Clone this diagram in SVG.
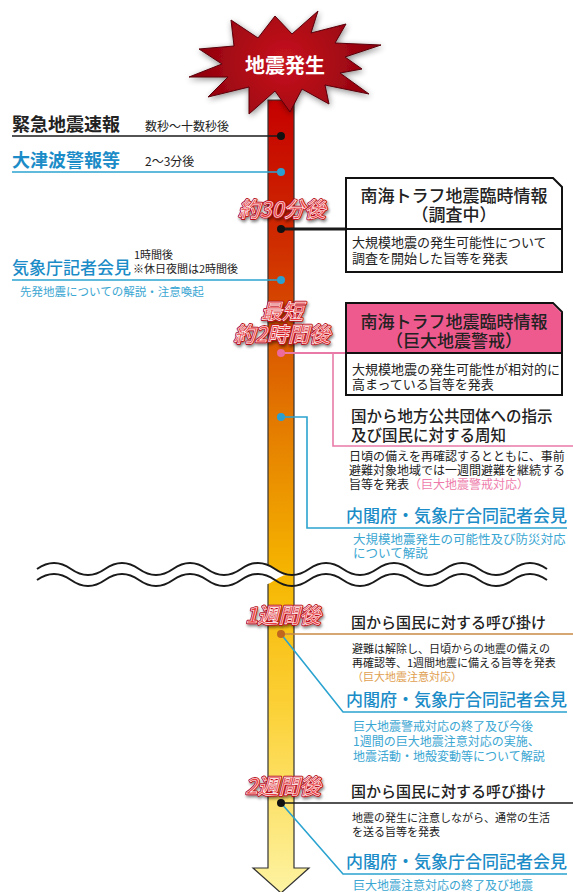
<svg xmlns="http://www.w3.org/2000/svg" width="573" height="892" viewBox="0 0 573 892">
<defs>
<linearGradient id="barGrad" x1="0" y1="100" x2="0" y2="892" gradientUnits="userSpaceOnUse">
<stop offset="0" stop-color="#c50000"/>
<stop offset="0.18" stop-color="#cf2c00"/>
<stop offset="0.4" stop-color="#e37800"/>
<stop offset="0.6" stop-color="#f6b600"/>
<stop offset="0.78" stop-color="#fcd33c"/>
<stop offset="1" stop-color="#fdf3a2"/>
</linearGradient>
<radialGradient id="starGrad" cx="285" cy="62" r="95" gradientUnits="userSpaceOnUse">
<stop offset="0" stop-color="#c8141e"/>
<stop offset="1" stop-color="#8c000c"/>
</radialGradient>
<filter id="glow" x="-20%" y="-20%" width="140%" height="140%">
<feGaussianBlur in="SourceAlpha" stdDeviation="3"/>
<feOffset dx="1" dy="2"/>
<feComponentTransfer><feFuncA type="linear" slope="0.45"/></feComponentTransfer>
<feMerge><feMergeNode/><feMergeNode in="SourceGraphic"/></feMerge>
</filter>
<filter id="sh" x="-20%" y="-30%" width="140%" height="160%">
<feGaussianBlur in="SourceAlpha" stdDeviation="1.5"/>
<feOffset dx="1" dy="1.5"/>
<feComponentTransfer><feFuncA type="linear" slope="0.5"/></feComponentTransfer>
<feMerge><feMergeNode/><feMergeNode in="SourceGraphic"/></feMerge>
</filter>
</defs>
<style>
text{font-family:"Noto Sans CJK JP","Noto Sans",sans-serif}
.blk{fill:#222}
.blue{fill:#1b8cc7}
.lblue{fill:#3aa6d2}
.pinkt{fill:#ee7cab}
.orgt{fill:#e0a050}
.big{font-size:18px;font-weight:700}
.mid{font-size:17px;font-weight:500}
.sub{font-size:15.5px;font-weight:500}
.s12{font-size:12px}
.s11{font-size:11px}
.s13{font-size:13px}
.rl{font-size:21px;font-style:italic;font-weight:500;text-anchor:middle}
.rlb{fill:#b8101a;stroke:#b8101a;stroke-width:2.6;stroke-linejoin:round;filter:url(#sh)}
.rlf{fill:#ea3c40;stroke:#fff;stroke-width:0.6}
.hd{text-anchor:middle}
.ln{fill:none}
.kL{stroke:#1a1a1a}
.bL{stroke:#2ba3d0}
.pL{stroke:#e97aa8}
.oL{stroke:#c98a44}
</style>

<g id="timeline">
<path d="M268,100 V868 H253 L281,893 L309,868 H294 V100 Z" fill="url(#barGrad)" stroke="#333" stroke-width="1.2"/>
</g>

<g id="quake">
<polygon filter="url(#glow)" fill="url(#starGrad)" stroke="#5a0008" stroke-width="1" points="318,11 311,33 346,24 335,43 381,45 345,57 362,69 340,73 369,94 325,85 329,104 302,89 290,112 275,91 249,114 249,87 208,97 228,77 189,77 222,64 199,49 234,46 231,20 258,38 275,16 292,34"/>
<text x="285" y="73" class="hd" style="font-size:20px;font-weight:700" fill="#fff">地震発生</text>
</g>

<g id="breakmark">
<path d="M37,569 q17,-12 34,0 t34,0 t34,0 t34,0 t34,0 t34,0 t34,0 t34,0 t34,0 t34,0 t34,0 t34,0 t34,0 t34,0 t34,0 L547,580 q-17,12 -34,0 t-34,0 t-34,0 t-34,0 t-34,0 t-34,0 t-34,0 t-34,0 t-34,0 t-34,0 t-34,0 t-34,0 t-34,0 t-34,0 t-34,0 Z" fill="#fff"/>
</g>

<g id="connectors" stroke-width="1.6">
<line class="ln kL" x1="12" y1="136" x2="281" y2="136"/>
<line class="ln bL" x1="12" y1="172" x2="281" y2="172"/>
<line class="ln kL" x1="281" y1="229" x2="346" y2="229" stroke-width="3"/>
<line class="ln bL" x1="12" y1="280" x2="281" y2="280"/>
<polyline class="ln pL" points="281,353 346,353" stroke-width="2"/>
<polyline class="ln pL" points="333,353 333,446 573,446"/>
<polyline class="ln bL" points="281,417 307,417 307,528 567,528"/>
<line class="ln oL" x1="281" y1="634" x2="573" y2="634"/>
<polyline class="ln bL" points="281,634 343,712 567,712"/>
<line class="ln kL" x1="281" y1="803" x2="573" y2="803"/>
<polyline class="ln bL" points="281,803 343,874 567,874"/>
<circle cx="281" cy="136" r="4" fill="#111"/>
<circle cx="281" cy="172" r="4" fill="#2b9fd0"/>
<circle cx="281" cy="229" r="4" fill="#111"/>
<circle cx="281" cy="280" r="4" fill="#2b9fd0"/>
<circle cx="281" cy="353" r="4" fill="#ec6a9c"/>
<circle cx="281" cy="417" r="4" fill="#2b9fd0"/>
<circle cx="281" cy="634" r="4" fill="#c0661e"/>
<circle cx="281" cy="803" r="4" fill="#111"/>
</g>

<g id="wave-lines" fill="none" stroke="#1a1a1a" stroke-width="2">
<path d="M37,569 q17,-12 34,0 t34,0 t34,0 t34,0 t34,0 t34,0 t34,0 t34,0 t34,0 t34,0 t34,0 t34,0 t34,0 t34,0 t34,0"/>
<path d="M37,580 q17,-12 34,0 t34,0 t34,0 t34,0 t34,0 t34,0 t34,0 t34,0 t34,0 t34,0 t34,0 t34,0 t34,0 t34,0 t34,0"/>
</g>

<g id="eew">
<text x="12" y="131" class="big blk">緊急地震速報</text>
<text x="145" y="131" class="s12 blk">数秒～十数秒後</text>
</g>

<g id="tsunami">
<text x="12" y="167" class="big blue">大津波警報等</text>
<text x="145" y="166" class="s12 blk">2～3分後</text>
</g>

<g id="jma-press">
<text x="12" y="274" class="mid blue">気象庁記者会見</text>
<text x="134" y="259" class="s11 blk">1時間後</text>
<text x="133" y="273" class="s11 blk">※休日夜間は2時間後</text>
<text x="20" y="296" class="s11 lblue" style="font-size:11.5px">先発地震についての解説・注意喚起</text>
</g>

<g id="label-30min">
<text x="282" y="217" class="rl rlb">約30分後</text>
<text x="282" y="217" class="rl rlf">約30分後</text>
</g>

<g id="info-survey">
<path d="M346,178 H553 L562,187 V272 H346 Z" fill="#fff" stroke="#111" stroke-width="2"/>
<line x1="346" y1="229" x2="562" y2="229" stroke="#111" stroke-width="2"/>
<text x="454" y="202" class="mid hd blk">南海トラフ地震臨時情報</text>
<text x="454" y="221" class="mid hd blk">（調査中）</text>
<text x="352" y="247" class="s13 blk">大規模地震の発生可能性について</text>
<text x="352" y="263" class="s13 blk">調査を開始した旨等を発表</text>
</g>

<g id="label-2h">
<text x="282" y="319" class="rl rlb">最短</text>
<text x="282" y="319" class="rl rlf">最短</text>
<text x="282" y="342" class="rl rlb">約2時間後</text>
<text x="282" y="342" class="rl rlf">約2時間後</text>
</g>

<g id="info-warning">
<path d="M346,303 H553 L562,312 V395 H346 Z" fill="#fff" stroke="#111" stroke-width="2"/>
<path d="M347,304 H552.5 L561,312.5 V352 H347 Z" fill="#ee5a8e"/>
<line x1="346" y1="353" x2="562" y2="353" stroke="#111" stroke-width="2"/>
<text x="454" y="328" class="mid hd blk">南海トラフ地震臨時情報</text>
<text x="454" y="347" class="mid hd blk">（巨大地震警戒）</text>
<text x="352" y="374" class="s13 blk">大規模地震の発生可能性が相対的に</text>
<text x="352" y="389" class="s13 blk">高まっている旨等を発表</text>
</g>

<g id="gov-instruction">
<text x="351" y="422" class="sub blk">国から地方公共団体への指示</text>
<text x="351" y="441" class="sub blk">及び国民に対する周知</text>
<text x="349" y="461" class="s12 blk">日頃の備えを再確認するとともに、事前</text>
<text x="349" y="475" class="s12 blk">避難対象地域では一週間避難を継続する</text>
<text x="349" y="489" class="s12 blk">旨等を発表<tspan class="pinkt">（巨大地震警戒対応）</tspan></text>
</g>

<g id="joint-press-1">
<text x="346" y="522" class="mid blue">内閣府・気象庁合同記者会見</text>
<text x="353" y="544" class="lblue" style="font-size:12.5px">大規模地震発生の可能性及び防災対応</text>
<text x="353" y="558" class="lblue" style="font-size:12.5px">について解説</text>
</g>

<g id="label-1w">
<text x="283" y="623" class="rl rlb">1週間後</text>
<text x="283" y="623" class="rl rlf">1週間後</text>
</g>

<g id="call-1w">
<text x="351" y="628" class="sub blk" style="font-size:15px">国から国民に対する呼び掛け</text>
<text x="352" y="653" class="s11 blk">避難は解除し、日頃からの地震の備えの</text>
<text x="352" y="667" class="s11 blk">再確認等、1週間地震に備える旨等を発表</text>
<text x="352" y="681" class="s11 orgt">（巨大地震注意対応）</text>
</g>

<g id="joint-press-2">
<text x="346" y="706" class="mid blue">内閣府・気象庁合同記者会見</text>
<text x="353" y="731" class="s12 lblue">巨大地震警戒対応の終了及び今後</text>
<text x="353" y="746" class="s12 lblue">1週間の巨大地震注意対応の実施、</text>
<text x="353" y="761" class="s12 lblue">地震活動・地殻変動等について解説</text>
</g>

<g id="label-2w">
<text x="283" y="794" class="rl rlb">2週間後</text>
<text x="283" y="794" class="rl rlf">2週間後</text>
</g>

<g id="call-2w">
<text x="351" y="797" class="sub blk" style="font-size:15px">国から国民に対する呼び掛け</text>
<text x="352" y="822" class="s11 blk">地震の発生に注意しながら、通常の生活</text>
<text x="352" y="836" class="s11 blk">を送る旨等を発表</text>
</g>

<g id="joint-press-3">
<text x="346" y="868" class="mid blue">内閣府・気象庁合同記者会見</text>
<text x="353" y="890" class="s12 lblue">巨大地震注意対応の終了及び地震</text>
</g>
</svg>
